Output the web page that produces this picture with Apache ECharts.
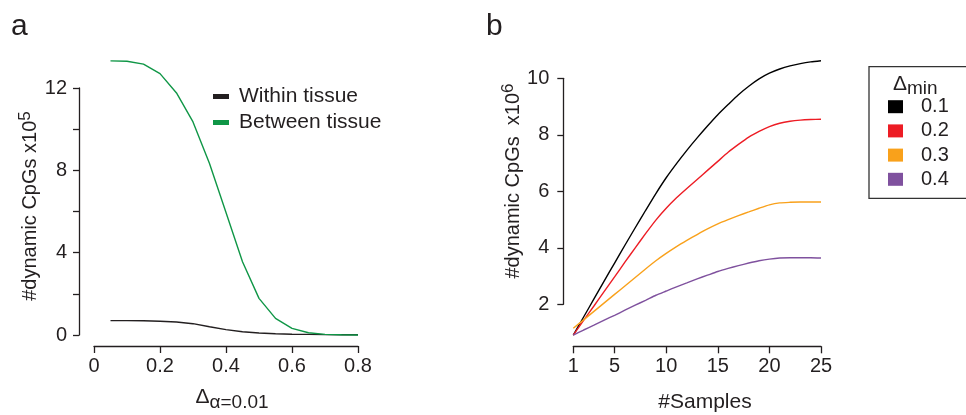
<!DOCTYPE html>
<html>
<head>
<meta charset="utf-8">
<script src="https://cdn.jsdelivr.net/npm/echarts@6/dist/echarts.min.js"></script>
<style>
html,body{margin:0;padding:0;background:#fff;}
#chart{width:966px;height:415px;}
</style>
</head>
<body>
<div id="chart"></div>
<script>
// ---------- Panel a data ----------
const deltaAlpha = [0.05,0.10,0.15,0.20,0.25,0.30,0.35,0.40,0.45,0.50,0.55,0.60,0.65,0.70,0.75,0.80];
const withinTissue  = [0.70,0.70,0.69,0.67,0.63,0.55,0.40,0.26,0.16,0.10,0.06,0.04,0.03,0.02,0.01,0.01];
const betweenTissue = [13.32,13.30,13.16,12.70,11.76,10.35,8.33,5.95,3.56,1.78,0.81,0.32,0.11,0.03,0.01,0.00];
const aXTicks = [0,0.2,0.4,0.6,0.8];
const aXTickLabels = ['0','0.2','0.4','0.6','0.8'];
const aYLabelTicks = [0,4,8,12];

// ---------- Panel b data ----------
const samples = [1,2,3,4,5,6,7,8,9,10,11,12,13,14,15,16,17,18,19,20,21,22,23,24,25];
const dmin01 = [0.91,1.55,2.19,2.83,3.46,4.09,4.71,5.32,5.92,6.48,6.98,7.45,7.89,8.31,8.71,9.07,9.42,9.72,9.98,10.18,10.33,10.44,10.52,10.58,10.62];
const dmin02 = [0.91,1.43,1.94,2.46,2.97,3.49,4.00,4.50,4.98,5.40,5.77,6.10,6.42,6.74,7.06,7.38,7.66,7.92,8.12,8.29,8.41,8.48,8.52,8.54,8.55];
const dmin03 = [1.15,1.45,1.75,2.05,2.35,2.65,2.95,3.25,3.54,3.80,4.04,4.26,4.47,4.67,4.85,5.00,5.14,5.27,5.40,5.52,5.59,5.61,5.62,5.62,5.62];
const dmin04 = [0.91,1.09,1.26,1.44,1.61,1.79,1.97,2.14,2.32,2.47,2.62,2.76,2.90,3.03,3.16,3.27,3.37,3.46,3.54,3.60,3.64,3.65,3.65,3.65,3.64];
const bXTicks = [1,5,10,15,20,25];
const bYTicks = [2,4,6,8,10];
const bNames = ['0.1','0.2','0.3','0.4'];

const FONT = '"Liberation Sans", Arial, Helvetica, sans-serif';
const INK = '#231f20';
const pair = (xs, ys) => xs.map((x, i) => [x, ys[i]]);

const axisCommon = {
  axisLine: {show: true, onZero: false, lineStyle: {color: INK, width: 1.3}},
  axisTick: {show: true, inside: false, length: 7, lineStyle: {color: INK, width: 1.3}},
  splitLine: {show: false},
  axisLabel: {color: INK, fontSize: 20, fontFamily: FONT}
};

const chart = echarts.init(document.getElementById('chart'), null, {renderer: 'canvas'});
chart.setOption({
  animation: false,
  backgroundColor: '#fff',
  textStyle: {fontFamily: FONT},
  grid: [
    {left: 94, top: 88, width: 264, height: 247},
    {left: 573.3, top: 78.3, width: 247.7, height: 226}
  ],
  xAxis: [
    Object.assign({}, axisCommon, {
      type: 'value', gridIndex: 0, min: 0, max: 0.8, interval: 0.2, offset: 11,
      axisLabel: Object.assign({}, axisCommon.axisLabel, {margin: 10,
        formatter: v => { const i = aXTicks.findIndex(t => Math.abs(t - v) < 1e-6); return i >= 0 ? aXTickLabels[i] : ''; }})
    }),
    Object.assign({}, axisCommon, {
      type: 'value', gridIndex: 1, min: 1, max: 25, offset: 42,
      axisTick: Object.assign({}, axisCommon.axisTick, {customValues: bXTicks}),
      axisLabel: Object.assign({}, axisCommon.axisLabel, {margin: 10, customValues: bXTicks})
    })
  ],
  yAxis: [
    Object.assign({}, axisCommon, {
      type: 'value', gridIndex: 0, min: 0, max: 12, interval: 2, offset: 15,
      axisTick: Object.assign({}, axisCommon.axisTick, {length: 6}),
      axisLabel: Object.assign({}, axisCommon.axisLabel, {margin: 12,
        formatter: v => aYLabelTicks.some(t => Math.abs(t - v) < 1e-6) ? String(v) : ''})
    }),
    Object.assign({}, axisCommon, {
      type: 'value', gridIndex: 1, min: 2, max: 10, interval: 2, offset: 10,
      axisTick: Object.assign({}, axisCommon.axisTick, {length: 6}),
      axisLabel: Object.assign({}, axisCommon.axisLabel, {margin: 14,
        formatter: v => bYTicks.includes(v) ? String(v) : ''})
    })
  ],
  legend: [
    {
      data: ['Within tissue', 'Between tissue'],
      orient: 'vertical', left: 209, top: 86, selectedMode: false,
      icon: 'rect', itemWidth: 16, itemHeight: 5, itemGap: 5,
      padding: [0, 0, 0, 4],
      textStyle: {color: INK, fontSize: 21, fontFamily: FONT, lineHeight: 21, padding: [0, 0, 0, 5]}
    },
    {
      data: bNames,
      orient: 'vertical', left: 869, top: 66.7, selectedMode: false,
      icon: 'rect', itemWidth: 15, itemHeight: 13, itemGap: 4.2,
      padding: [30, 60, 9, 19],
      borderColor: '#333', borderWidth: 1.3,
      textStyle: {color: INK, fontSize: 20, fontFamily: FONT, lineHeight: 20, padding: [0, 0, 0, 13]}
    }
  ],
  graphic: [
    {type: 'text', left: 11, top: 12, style: {text: 'a', fontSize: 30, fontFamily: FONT, fill: INK}},
    {type: 'text', left: 486, top: 12, style: {text: 'b', fontSize: 30, fontFamily: FONT, fill: INK}},
    // panel a y-axis name
    {type: 'text', x: 30, y: 206, rotation: Math.PI / 2,
      style: {x: 0, y: 0, align: 'center', verticalAlign: 'middle', fill: INK, fontFamily: FONT,
        text: '{m|#dynamic CpGs x10}{s|5}',
        rich: {m: {fontSize: 20, lineHeight: 26, fontFamily: FONT, fill: INK},
               s: {fontSize: 17, lineHeight: 17, verticalAlign: 'top', fontFamily: FONT, fill: INK}}}},
    // panel a x-axis name
    {type: 'text', x: 232, y: 397,
      style: {x: 0, y: 0, align: 'center', verticalAlign: 'middle', fill: INK, fontFamily: FONT,
        text: '{d|Δ}{s|α=0.01}',
        rich: {d: {fontSize: 21, lineHeight: 30, fontFamily: FONT, fill: INK},
               s: {fontSize: 19, lineHeight: 19, verticalAlign: 'bottom', fontFamily: FONT, fill: INK}}}},
    // panel b y-axis name
    {type: 'text', x: 513, y: 181, rotation: Math.PI / 2,
      style: {x: 0, y: 0, align: 'center', verticalAlign: 'middle', fill: INK, fontFamily: FONT,
        text: '{m|#dynamic CpGs  x10}{s|6}',
        rich: {m: {fontSize: 20, lineHeight: 26, fontFamily: FONT, fill: INK},
               s: {fontSize: 17, lineHeight: 17, verticalAlign: 'top', fontFamily: FONT, fill: INK}}}},
    // panel b x-axis name
    {type: 'text', x: 705, y: 402,
      style: {x: 0, y: 0, align: 'center', verticalAlign: 'middle', text: '#Samples', fontSize: 21, fontFamily: FONT, fill: INK}},
    // panel b legend title
    {type: 'text', x: 893, y: 84,
      style: {x: 0, y: 0, align: 'left', verticalAlign: 'middle', fill: INK, fontFamily: FONT,
        text: '{d|Δ}{s|min}',
        rich: {d: {fontSize: 21, lineHeight: 28, fontFamily: FONT, fill: INK},
               s: {fontSize: 19, lineHeight: 19, verticalAlign: 'bottom', fontFamily: FONT, fill: INK}}}}
  ],
  series: [
    {name: 'Within tissue', type: 'line', xAxisIndex: 0, yAxisIndex: 0, clip: false,
      showSymbol: false, symbol: 'none', color: INK, lineStyle: {color: INK, width: 1.4},
      data: pair(deltaAlpha, withinTissue)},
    {name: 'Between tissue', type: 'line', xAxisIndex: 0, yAxisIndex: 0, clip: false,
      showSymbol: false, symbol: 'none', color: '#0f9646', lineStyle: {color: '#0f9646', width: 1.4},
      data: pair(deltaAlpha, betweenTissue)},
    {name: '0.1', type: 'line', xAxisIndex: 1, yAxisIndex: 1, clip: false, smooth: 0.2,
      showSymbol: false, symbol: 'none', color: '#000000', lineStyle: {color: '#000000', width: 1.4},
      data: pair(samples, dmin01)},
    {name: '0.2', type: 'line', xAxisIndex: 1, yAxisIndex: 1, clip: false, smooth: 0.2,
      showSymbol: false, symbol: 'none', color: '#ed1c24', lineStyle: {color: '#ed1c24', width: 1.4},
      data: pair(samples, dmin02)},
    {name: '0.3', type: 'line', xAxisIndex: 1, yAxisIndex: 1, clip: false, smooth: 0.2,
      showSymbol: false, symbol: 'none', color: '#f9a11b', lineStyle: {color: '#f9a11b', width: 1.4},
      data: pair(samples, dmin03)},
    {name: '0.4', type: 'line', xAxisIndex: 1, yAxisIndex: 1, clip: false, smooth: 0.2,
      showSymbol: false, symbol: 'none', color: '#7f519e', lineStyle: {color: '#7f519e', width: 1.4},
      data: pair(samples, dmin04)}
  ]
});
</script>
</body>
</html>
